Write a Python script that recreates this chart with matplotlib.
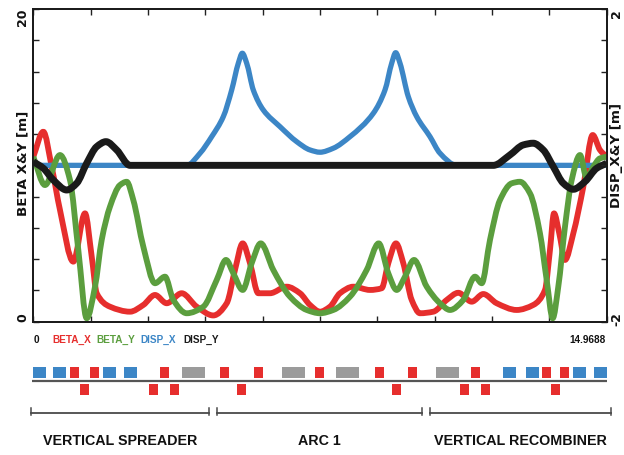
import numpy as np
import matplotlib
matplotlib.use("Agg")
import matplotlib.pyplot as plt
from matplotlib.patches import Rectangle, PathPatch
from matplotlib.path import Path

# ---------------- data ----------------
S_MAX = 14.9688

beta_x_s = [0.000, 0.261, 0.480, 0.697, 1.044, 1.350, 1.525, 1.655, 2.002, 2.524,
            2.872, 3.177, 3.482, 3.874, 4.266, 4.699, 5.049, 5.265, 5.466, 5.657,
            5.874, 6.179, 6.615, 6.962, 7.223, 7.484, 7.745, 8.006, 8.354, 8.790,
            9.095, 9.267, 9.468, 9.659, 9.878, 10.095, 10.442, 10.792, 11.095, 11.444,
            11.747, 12.097, 12.619, 13.052, 13.358, 13.488, 13.593, 13.731, 13.880, 14.097,
            14.358, 14.603, 14.794, 14.969]
beta_x = [10.55, 12.15, 9.91, 7.14, 3.84, 6.93, 4.16, 1.82, 0.96, 0.64,
          1.07, 1.71, 1.18, 1.82, 0.96, 0.40, 1.18, 3.31, 5.01, 3.74,
          1.82, 1.82, 2.24, 1.82, 1.07, 0.64, 0.96, 1.82, 2.24, 2.03,
          2.14, 3.74, 5.01, 3.74, 1.39, 0.54, 0.64, 1.39, 1.85, 1.28,
          1.77, 1.18, 0.75, 1.07, 2.03, 4.59, 6.93, 5.65, 3.95, 5.65,
          8.63, 11.94, 10.98, 10.55]

beta_y_s = [0.000, 0.305, 0.697, 0.958, 1.175, 1.394, 1.611, 1.786, 2.002, 2.263,
            2.438, 2.611, 2.872, 3.177, 3.438, 3.655, 4.005, 4.438, 4.788, 5.031,
            5.221, 5.466, 5.701, 5.936, 6.265, 6.701, 7.137, 7.484, 7.832, 8.267,
            8.703, 9.017, 9.267, 9.486, 9.703, 9.938, 10.270, 10.617, 10.878, 11.225,
            11.531, 11.706, 11.922, 12.183, 12.489, 12.705, 12.966, 13.227, 13.402, 13.559,
            13.705, 13.880, 14.055, 14.272, 14.447, 14.619, 14.794, 14.969]
beta_y = [10.55, 8.74, 10.66, 9.06, 4.59, 0.22, 2.24, 5.23, 7.36, 8.74,
          8.95, 7.78, 4.80, 2.46, 2.88, 1.39, 0.54, 0.96, 2.67, 3.95,
          3.10, 2.03, 3.74, 5.01, 3.31, 1.60, 0.75, 0.54, 0.75, 1.60,
          3.31, 5.01, 3.10, 2.03, 2.88, 3.95, 2.24, 1.18, 0.75, 1.39,
          2.88, 2.46, 5.23, 7.78, 8.85, 8.95, 8.21, 5.65, 2.67, 0.22,
          2.24, 6.08, 9.06, 10.66, 9.17, 9.91, 10.45, 10.55]

disp_x_s = [0.000, 4.005, 4.352, 4.657, 4.960, 5.179, 5.352, 5.456, 5.571, 5.743,
            6.004, 6.440, 6.876, 7.223, 7.484, 7.832, 8.267, 8.876, 9.181, 9.356,
            9.460, 9.573, 9.789, 10.009, 10.356, 10.617, 11.053, 14.969]
disp_x = [0.000, 0.000, 0.155, 0.367, 0.623, 0.964, 1.306, 1.434, 1.306, 0.964,
          0.708, 0.495, 0.303, 0.197, 0.168, 0.219, 0.367, 0.666, 0.964, 1.306,
          1.441, 1.306, 0.879, 0.623, 0.367, 0.155, 0.000, 0.000]

disp_y_s = [0.000, 0.261, 0.522, 0.872, 1.133, 1.394, 1.655, 1.898, 2.177, 2.524,
            12.008, 12.443, 12.791, 13.052, 13.313, 13.575, 13.836, 14.097, 14.402, 14.707,
            14.969]
disp_y = [0.047, -0.037, -0.187, -0.315, -0.229, 0.027, 0.239, 0.303, 0.197, 0.000,
          0.000, 0.133, 0.261, 0.283, 0.197, -0.017, -0.229, -0.306, -0.208, -0.037,
          0.027]

# lattice elements above the line: start, end, kind (Q = blue, K = red, B = grey)
upper_start = [0.00, 0.51, 0.96, 1.48, 1.81, 2.37, 3.31, 3.88, 4.87, 5.76, 6.49, 7.35,
               7.90, 8.92, 9.78, 10.51, 11.43, 12.26, 12.86, 13.28, 13.75, 14.09, 14.64]
upper_end = [0.33, 0.85, 1.19, 1.72, 2.16, 2.71, 3.54, 4.48, 5.11, 6.00, 7.09, 7.59,
             8.50, 9.16, 10.02, 11.11, 11.66, 12.60, 13.20, 13.52, 13.99, 14.43, 14.97]
upper_kind = ["Q", "Q", "K", "K", "Q", "Q", "K", "B", "K", "K", "B", "K",
              "B", "K", "K", "B", "K", "Q", "Q", "K", "K", "Q", "Q"]
# lattice elements below the line
lower_start = [1.22, 3.02, 3.57, 5.32, 9.36, 11.14, 11.69, 13.52]
lower_end = [1.45, 3.26, 3.80, 5.55, 9.60, 11.37, 11.92, 13.75]

section_names = ["VERTICAL SPREADER", "ARC 1", "VERTICAL RECOMBINER"]
section_start = [-0.06, 4.80, 10.36]
section_end = [4.59, 10.15, 15.08]

legend_names = ["BETA_X", "BETA_Y", "DISP_X", "DISP_Y"]

# ---------------- style ----------------
RED = "#E62E2D"
GREEN = "#5B9E3E"
BLUE = "#3C86C6"
BLACK = "#1A1A1A"
GREY = "#9B9B9B"
kind_color = {"Q": BLUE, "K": RED, "B": GREY}

NARROW = ["Liberation Sans", "DejaVu Sans"]
WIDE = ["DejaVu Sans"]

W, H = 624, 455
fig = plt.figure(figsize=(W / 100, H / 100), dpi=100)


def fx(px):
    return px / W


def fy(py):
    return 1 - py / H


def smooth_path(xs, ys):
    """Monotone cubic Bezier path passing through the given points."""
    x = np.asarray(xs, float)
    y = np.asarray(ys, float)
    n = len(x)
    h = np.diff(x)
    d = np.diff(y) / h
    m = np.zeros(n)
    m[0], m[-1] = d[0], d[-1]
    for k in range(1, n - 1):
        if d[k - 1] * d[k] > 0:
            w1 = 2 * h[k] + h[k - 1]
            w2 = h[k] + 2 * h[k - 1]
            m[k] = (w1 + w2) / (w1 / d[k - 1] + w2 / d[k])
    verts = [(x[0], y[0])]
    codes = [Path.MOVETO]
    for k in range(n - 1):
        verts += [(x[k] + h[k] / 3, y[k] + m[k] * h[k] / 3),
                  (x[k + 1] - h[k] / 3, y[k + 1] - m[k + 1] * h[k] / 3),
                  (x[k + 1], y[k + 1])]
        codes += [Path.CURVE4] * 3
    return Path(verts, codes)


L, R, T, B = 33.3, 606.7, 9.0, 321.7
ax = fig.add_axes([fx(L), fy(B), fx(R) - fx(L), fy(T) - fy(B)])
ax2 = ax.twinx()
ax.set_xlim(0, S_MAX)
ax.set_ylim(0, 20)
ax2.set_ylim(-2, 2)
ax2.set_xlim(0, S_MAX)

curves = [
    (beta_x_s, beta_x, RED, 4.2, ax.transData),
    (disp_x_s, disp_x, BLUE, 3.8, ax2.transData),
    (beta_y_s, beta_y, GREEN, 4.2, ax.transData),
    (disp_y_s, disp_y, BLACK, 5.0, ax2.transData),
]
for xs, ys, c, lw, tr in curves:
    patch = PathPatch(smooth_path(xs, ys), fill=False, edgecolor=c, lw=lw,
                      joinstyle="round", capstyle="butt", transform=tr)
    patch.set_clip_path(ax2.patch)
    ax2.add_patch(patch)

# ticks
xt = np.linspace(0, S_MAX, 11)
ax.set_xticks(xt)
ax.set_xticklabels([])
ax.tick_params(axis="x", direction="in", length=4, width=1, top=True, bottom=True,
               color="#222222")
ax2.tick_params(axis="x", direction="in", length=4, width=1, top=True, bottom=True,
                color="#222222")

yt = np.arange(0, 21, 2)
ax.set_yticks(yt)
ax.set_yticklabels([""] * len(yt))
ax.tick_params(axis="y", direction="in", length=4, width=1, left=True, right=False,
               color="#222222")
yt2 = np.linspace(-2, 2, 11)
ax2.set_yticks(yt2)
ax2.set_yticklabels([""] * len(yt2))
ax2.tick_params(axis="y", direction="in", length=4, width=1, right=True, left=False,
                color="#222222")

for a in (ax, ax2):
    for sp in a.spines.values():
        sp.set_linewidth(1.3)
        sp.set_color("#1a1a1a")

tick_font = dict(family=WIDE, weight="bold", size=9.0, rotation=90, color="#111111")
fig.text(fx(22.5), fy(T), "20", ha="center", va="top", **tick_font)
fig.text(fx(22.5), fy(B), "0", ha="center", va="bottom", **tick_font)
fig.text(fx(616.5), fy(T), "2", ha="center", va="top", **tick_font)
fig.text(fx(616.5), fy(B - 3), "-2", ha="center", va="center", **tick_font)

lab_font = dict(family=WIDE, weight="bold", size=9.6, rotation=90, color="#111111")
fig.text(fx(22.5), fy(163.5), "BETA X&Y [m]", ha="center", va="center", **lab_font)
fig.text(fx(616.5), fy(155), "DISP_X&Y [m]", ha="center", va="center", **lab_font)

# legend row
leg_font = dict(family=NARROW, weight="bold", size=7.2)
yl = fy(340)
fig.text(fx(34), yl, "0", ha="left", va="center", color="#111111", **leg_font)
fig.text(fx(606), yl, f"{S_MAX:g}", ha="right", va="center", color="#111111", **leg_font)
leg_x = [52, 96, 140, 183]
leg_colors = [RED, GREEN, BLUE, BLACK]
for name, px, c in zip(legend_names, leg_x, leg_colors):
    fig.text(fx(px), yl, name, ha="left", va="center", color=c, **leg_font)

# lattice axes (y in pixel rows)
lat = fig.add_axes([fx(L), 0, fx(R) - fx(L), fy(355)])
lat.set_xlim(0, S_MAX)
lat.set_ylim(H, 355)
lat.axis("off")

lat.plot([-0.03, S_MAX + 0.01], [381, 381], color="#555555", lw=1.6, clip_on=False,
         solid_capstyle="butt")
for s0, s1, k in zip(upper_start, upper_end, upper_kind):
    lat.add_patch(Rectangle((s0, 367), s1 - s0, 11, facecolor=kind_color[k],
                            edgecolor="none", clip_on=False))
for s0, s1 in zip(lower_start, lower_end):
    lat.add_patch(Rectangle((s0, 384), s1 - s0, 11, facecolor=RED,
                            edgecolor="none", clip_on=False))

for name, s0, s1 in zip(section_names, section_start, section_end):
    lat.plot([s0, s1], [413, 413], color="#4a4a4a", lw=1.3, clip_on=False)
    lat.plot([s0, s0], [408, 415], color="#4a4a4a", lw=1.1, clip_on=False)
    lat.plot([s1, s1], [408, 415], color="#4a4a4a", lw=1.1, clip_on=False)
    lat.text((s0 + s1) / 2, 441, name, ha="center", va="center",
             family=NARROW, weight="bold", size=10.3, color="#111111", clip_on=False)

fig.savefig("out.png", dpi=100)
